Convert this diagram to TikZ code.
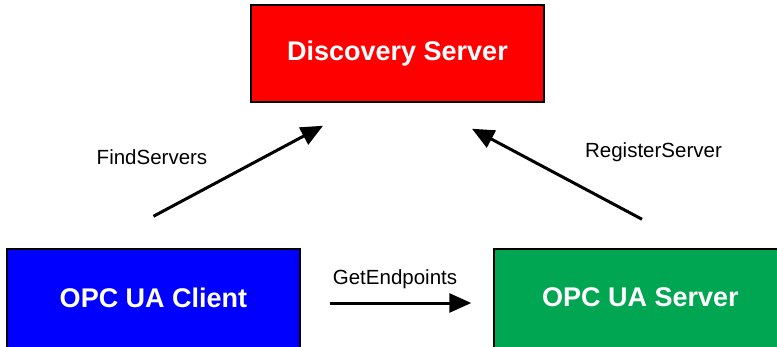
\documentclass[tikz,border=0pt]{standalone}
\usepackage{fontspec}
\setmainfont{Liberation Sans}
\usetikzlibrary{arrows.meta}
\definecolor{discred}{RGB}{255,0,0}
\definecolor{clientblue}{RGB}{0,0,255}
\definecolor{servergreen}{RGB}{0,166,81}
\newcommand{\boxW}{293pt}
\newcommand{\boxH}{97pt}
\newcommand{\lowH}{100pt}
\newcommand{\tipX}{74.5pt}

\begin{document}
\begin{tikzpicture}[x=1pt,y=-1pt,
    box/.style={draw=black, line width=1.5pt, minimum width=\boxW, minimum height=\boxH,
        inner sep=0pt, text=white, font=\fontsize{27}{31}\selectfont\bfseries},
    call/.style={-{Triangle[length=22pt,width=19pt]}, line width=3pt},
    lbl/.style={font=\fontsize{20.5}{24}\selectfont}]

        % Page size
        \useasboundingbox (0,0) rectangle (777,346);
        \clip (0,0) rectangle (777,346);

        % Draw the boxes (the lower two run off the page)
        \node[box, fill=discred] (disc) at (397.5,53.5) {Discovery Server};
        \node[box, fill=clientblue, minimum height=\lowH, text depth=3pt] (client) at (153.5,299) {OPC UA Client};
        \node[box, fill=servergreen, minimum height=\lowH, text depth=3pt] (server) at (640.5,299) {OPC UA Server};

        % Free ends of the arrows
        \coordinate (findtail) at ([yshift=32pt]client.north);
        \coordinate (findtip) at ([xshift=-\tipX,yshift=-23pt]disc.south);
        \coordinate (regtail) at ([xshift=1.5pt,yshift=29pt]server.north);
        \coordinate (regtip) at ([xshift=\tipX,yshift=-26pt]disc.south);
        \coordinate (gettail) at ([xshift=29pt,yshift=-4pt]client.east);
        \coordinate (gettip) at ([xshift=-22pt,yshift=-4pt]server.west);

        % Draw the service calls
        \draw[call] (findtail) -- (findtip);
        \draw[call] (regtail) -- (regtip);
        \draw[call] (gettail) -- (gettip);

        % Labels of the calls
        \node[lbl] (findlbl) at (152,157.5) {FindServers};
        \node[lbl] (reglbl) at (653.5,152) {RegisterServer};
        \node[lbl] (getlbl) at (395,279) {GetEndpoints};
    \end{tikzpicture}
\end{document}
